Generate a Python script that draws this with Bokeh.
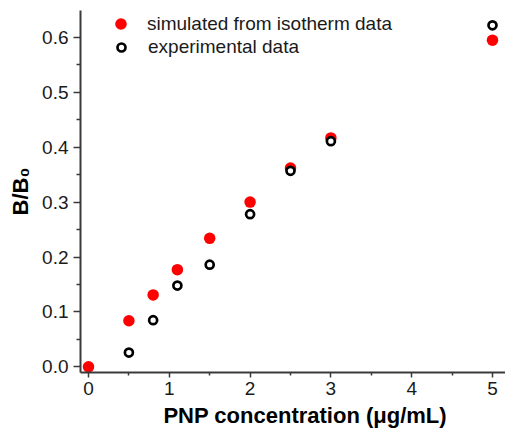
from bokeh.plotting import figure
from bokeh.models import Range1d, FixedTicker, NumeralTickFormatter, Legend, LegendItem
from bokeh.embed import file_html
from bokeh.resources import INLINE

# Data
conc_sim = [0, 0.5, 0.8, 1.1, 1.5, 2.0, 2.5, 3.0, 5.0]
bb0_sim = [0.0, 0.084, 0.131, 0.177, 0.234, 0.300, 0.362, 0.417, 0.595]
conc_exp = [0.5, 0.8, 1.1, 1.5, 2.0, 2.5, 3.0, 5.0]
bb0_exp = [0.026, 0.085, 0.148, 0.186, 0.278, 0.357, 0.411, 0.622]
x_ticks = [0, 1, 2, 3, 4, 5]
y_ticks = [0.0, 0.1, 0.2, 0.3, 0.4, 0.5, 0.6]
label_sim = "simulated from isotherm data"
label_exp = "experimental data"
x_title = "PNP concentration (\u03bcg/mL)"
y_title = "B/B\u2080"

FONT = "Liberation Sans"

p = figure(width=505, height=430, output_backend="svg", toolbar_location=None,
           x_range=Range1d(-0.099, 5.161), y_range=Range1d(-0.0103, 0.649),
           min_border_left=80, min_border_right=0, min_border_top=10, min_border_bottom=58)
p.outline_line_color = None
p.grid.visible = False
p.background_fill_color = "white"

r_sim = p.scatter(conc_sim, bb0_sim, marker="circle", size=11.5, fill_color="#ff0000", line_color=None)
r_exp = p.scatter(conc_exp, bb0_exp, marker="circle", size=8, fill_color="white",
                  line_color="black", line_width=2.7)

for ax in (p.xaxis[0], p.yaxis[0]):
    ax.axis_line_color = "#3a3a3a"
    ax.axis_line_width = 2
    ax.major_tick_line_color = "#3a3a3a"
    ax.minor_tick_line_color = "#3a3a3a"
    ax.major_tick_line_width = 1.5
    ax.minor_tick_line_width = 1.5
    ax.major_tick_in = 0
    ax.minor_tick_in = 0
    ax.major_label_text_font = FONT
    ax.major_label_text_font_size = "19px"
    ax.major_label_text_color = "#1a1a1a"
    ax.axis_label_text_font = FONT
    ax.axis_label_text_font_style = "bold"
    ax.axis_label_text_color = "black"

p.xaxis[0].ticker = FixedTicker(ticks=x_ticks, minor_ticks=[0.5, 1.5, 2.5, 3.5, 4.5])
p.xaxis[0].major_tick_out = 5
p.xaxis[0].minor_tick_out = 3
p.xaxis[0].major_label_standoff = 4
p.xaxis[0].axis_label = "\u00a0" * 4 + x_title
p.xaxis[0].axis_label_text_font_size = "22px"
p.xaxis[0].axis_label_standoff = 5

p.yaxis[0].ticker = FixedTicker(ticks=y_ticks, minor_ticks=[0.05, 0.15, 0.25, 0.35, 0.45, 0.55, 0.65])
p.yaxis[0].formatter = NumeralTickFormatter(format="0.0")
p.yaxis[0].major_tick_out = 7
p.yaxis[0].minor_tick_out = 4
p.yaxis[0].major_label_standoff = 5
p.yaxis[0].axis_label = y_title
p.yaxis[0].axis_label_text_font_size = "22px"
p.yaxis[0].axis_label_standoff = 6

common = dict(padding=0, margin=0, spacing=0, border_line_color=None, background_fill_alpha=0,
              label_text_font=FONT, label_text_font_size="19px", label_text_color="#1a1a1a",
              label_text_baseline="middle")

legend_sim = Legend(items=[LegendItem(label=label_sim, renderers=[r_sim])],
                    location=(26, 334), glyph_height=29, glyph_width=29, label_height=29,
                    label_standoff=12, **common)
legend_exp = Legend(items=[LegendItem(label=label_exp, renderers=[r_exp])],
                    location=(31, 313), glyph_height=20, glyph_width=20, label_height=24,
                    label_standoff=17, **common)
p.add_layout(legend_sim)
p.add_layout(legend_exp)

open("out.html", "w").write(file_html(p, INLINE))
